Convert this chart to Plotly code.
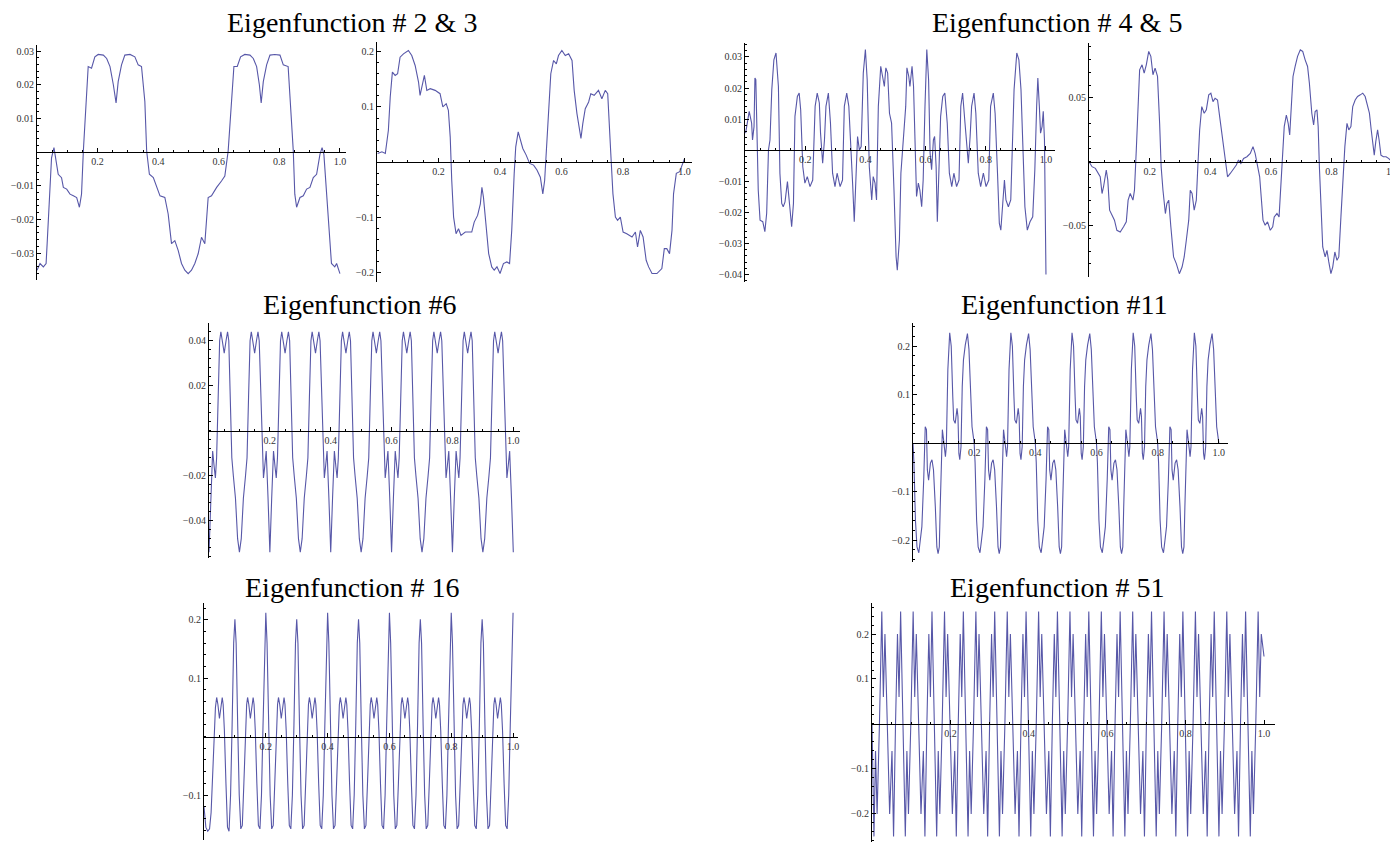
import plotly.graph_objects as go

# ---------------- data ----------------
eig2_x = [0, .010, .021, .030, .034, .041, .048, .056, .063, .070, .081, .087, .098, .109, .120, .131, .140, .147, .153, .162,
          .169, .180, .191, .202, .219, .230, .241, .252, .261, .268, .279, .290, .307, .323, .334, .345, .356, .362, .371, .384,
          .395, .406, .422, .433, .444, .455, .466, .477, .488, .499, .510, .521, .532, .543, .554, .565, .576, .593, .609, .620,
          .631, .642, .650, .661, .672, .686, .703, .714, .725, .734, .740, .747, .758, .769, .785, .802, .813, .829, .837, .846,
          .851, .857, .868, .879, .890, .901, .912, .923, .934, .941, .947, .956, .967, .972, .983, .989, 1.0]
eig2_y = [-.0351, -.0331, -.0341, -.0331, -.0263, -.0145, -.0017, .0013, -.0027, -.0066, -.0076, -.0105, -.0110, -.0125, -.0130,
          -.0135, -.0164, -.0125, .0003, .0150, .0254, .0249, .0283, .0290, .0288, .0278, .0254, .0200, .0146, .0209, .0259, .0288,
          .0290, .0283, .0259, .0254, .0150, .0003, -.0066, -.0076, -.0105, -.0130, -.0135, -.0184, -.0272, -.0263, -.0292, -.0331,
          -.0351, -.0361, -.0351, -.0331, -.0302, -.0253, -.0272, -.0135, -.0130, -.0105, -.0086, -.0071, .0003, .0150, .0254, .0254,
          .0283, .0290, .0288, .0278, .0254, .0200, .0146, .0209, .0259, .0288, .0290, .0288, .0259, .0254, .0150, .0003, -.0125,
          -.0164, -.0135, -.0130, -.0110, -.0105, -.0076, -.0066, -.0007, .0013, -.0007, -.0115, -.0263, -.0331, -.0341, -.0331, -.0361]

eig3_x = [.002, .016, .027, .037, .043, .050, .059, .067, .075, .086, .102, .113, .124, .135, .140, .146, .154, .162, .173, .189,
          .205, .214, .225, .232, .238, .243, .249, .257, .265, .273, .287, .300, .308, .316, .327, .336, .341, .346, .355, .363,
          .373, .381, .390, .400, .411, .422, .431, .438, .446, .451, .459, .466, .474, .485, .496, .509, .520, .531, .539, .545,
          .550, .558, .565, .574, .583, .590, .601, .612, .623, .634, .641, .650, .658, .663, .669, .677, .688, .695, .706, .720,
          .731, .742, .750, .756, .760, .767, .775, .782, .791, .800, .812, .829, .840, .847, .856, .865, .875, .883, .894, .910,
          .926, .934, .942, .951, .959, .964, .973, .984, .991, 1.0]
eig3_y = [.016, .019, .016, .058, .118, .163, .157, .160, .190, .196, .202, .193, .175, .145, .121, .136, .157, .130, .133, .130,
          .124, .100, .106, .094, .046, -.033, -.099, -.129, -.120, -.132, -.126, -.126, -.126, -.108, -.096, -.075, -.045, -.063,
          -.123, -.165, -.189, -.195, -.189, -.201, -.183, -.180, -.183, -.123, -.020, .028, .055, .040, .025, .013, -.002, -.005,
          -.014, -.027, -.057, -.033, .022, .100, .160, .184, .178, .193, .202, .193, .196, .184, .130, .088, .058, .043, .070,
          .097, .109, .124, .121, .130, .115, .130, .124, .070, .016, -.057, -.099, -.105, -.099, -.126, -.129, -.135, -.126,
          -.153, -.123, -.135, -.177, -.189, -.201, -.201, -.192, -.156, -.156, -.165, -.123, -.057, -.020, -.017, -.008, .007]

eig4_x = [.002, .008, .014, .022, .025, .030, .033, .036, .041, .044, .050, .059, .066, .072, .078, .083, .089, .096, .103, .111,
          .116, .122, .127, .133, .141, .147, .155, .161, .166, .174, .180, .185, .192, .199, .207, .216, .225, .233, .240, .247,
          .251, .258, .264, .269, .277, .284, .291, .299, .306, .316, .324, .330, .338, .345, .351, .358, .363, .369, .374, .380,
          .386, .393, .400, .406, .413, .421, .426, .432, .437, .443, .451, .457, .463, .468, .474, .480, .487, .495, .502, .506,
          .513, .518, .526, .534, .538, .544, .548, .555, .560, .565, .570, .576, .581, .587, .592, .598, .604, .610, .615, .620,
          .626, .630, .635, .639, .645, .650, .657, .664, .672, .679, .687, .694, .703, .711, .717, .723, .731, .736, .742, .748,
          .753, .761, .767, .775, .783, .792, .801, .810, .816, .825, .831, .839, .845, .850, .856, .862, .867, .875, .883, .888,
          .894, .903, .910, .917, .922, .930, .938, .947, .956, .963, .969, .973, .978, .982, .987, .991, .995, .998, 1.0]
eig4_y = [.0055, .0098, .0125, .0087, .0033, .0076, .0232, .0227, .0055, -.0128, -.0225, -.0230, -.0262, -.0203, .0001, .0033,
          .0195, .0291, .0313, .0205, -.0074, -.0171, -.0182, -.0166, -.0101, -.0160, -.0246, -.0171, .0109, .0173, .0184, .0130,
          -.0053, -.0106, -.0085, -.0117, -.0096, .0141, .0184, .0152, .0055, -.0042, .0033, .0141, .0184, .0087, -.0074, -.0117,
          -.0074, -.0117, -.0096, .0141, .0184, .0141, .0033, -.0117, -.0230, -.0074, .0044, .0001, .0012, .0248, .0324, .0227,
          -.0053, -.0160, -.0085, -.0106, -.0160, .0141, .0270, .0238, .0205, .0265, .0248, .0119, .0087, -.0128, -.0343, -.0386,
          -.0289, -.0074, .0044, .0141, .0265, .0238, .0205, .0270, .0205, .0055, -.0149, -.0106, -.0128, -.0182, -.0096, .0141,
          .0324, .0227, -.0010, -.0063, .0033, .0044, -.0053, -.0230, -.0074, .0109, .0173, .0184, .0087, -.0074, -.0117, -.0074,
          -.0117, -.0096, .0141, .0184, .0087, .0033, -.0042, .0044, .0141, .0184, .0119, -.0074, -.0117, -.0074, -.0117, -.0096,
          .0141, .0184, .0119, -.0074, -.0235, -.0257, -.0160, -.0096, -.0160, -.0182, -.0160, -.0020, .0195, .0313, .0291, .0195,
          .0055, -.0182, -.0257, -.0230, -.0214, -.0063, .0141, .0232, .0141, .0055, .0076, .0125, .0033, -.0182, -.0400]

eig5_x = [0, .010, .021, .031, .037, .043, .048, .057, .062, .068, .075, .084, .092, .103, .114, .123, .129, .136, .145, .150,
          .156, .160, .167, .175, .182, .189, .197, .204, .211, .218, .226, .233, .238, .244, .252, .257, .263, .270, .279, .288,
          .298, .307, .314, .321, .329, .334, .340, .347, .354, .359, .365, .372, .380, .387, .395, .402, .409, .416, .424, .431,
          .438, .446, .453, .457, .466, .475, .486, .493, .501, .510, .521, .532, .541, .548, .554, .563, .568, .574, .581, .589,
          .598, .606, .611, .620, .627, .633, .638, .644, .651, .657, .662, .667, .673, .680, .688, .697, .705, .713, .721, .727,
          .735, .741, .746, .752, .756, .760, .765, .771, .779, .785, .791, .798, .804, .811, .818, .824, .831, .837, .844, .851,
          .857, .864, .870, .878, .886, .895, .903, .911, .919, .925, .931, .936, .941, .946, .952, .957, .963, .971, .980, .988,
          .996, 1.0]
eig5_y = [0, -.0039, -.0052, -.0092, -.0118, -.0249, -.0196, -.0065, -.0144, -.0380, -.0419, -.0458, -.0537, -.0550, -.0510,
          -.0471, -.0301, -.0249, -.0301, -.0223, .0092, .0301, .0720, .0759, .0694, .0759, .0864, .0825, .0681, .0733, .0668,
          .0301, -.0039, -.0223, -.0406, -.0327, -.0301, -.0510, -.0746, -.0798, -.0877, -.0825, -.0746, -.0615, -.0458, -.0223,
          -.0249, -.0380, -.0301, -.0039, .0249, .0432, .0380, .0406, .0524, .0537, .0471, .0497, .0484, .0353, .0223, .0065,
          -.0065, -.0118, -.0092, -.0065, -.0026, .0013, -.0013, .0026, .0039, .0065, .0118, .0065, -.0013, -.0118, -.0275, -.0458,
          -.0497, -.0471, -.0537, -.0510, -.0432, -.0406, -.0432, -.0196, .0092, .0275, .0366, .0301, .0209, .0406, .0668, .0746,
          .0825, .0877, .0864, .0798, .0746, .0615, .0380, .0288, .0393, .0406, .0275, -.0039, -.0301, -.0668, -.0746, -.0694,
          -.0785, -.0877, -.0825, -.0707, -.0772, -.0746, -.0432, -.0144, .0118, .0301, .0249, .0275, .0432, .0484, .0511, .0524,
          .0537, .0511, .0445, .0380, .0249, .0144, .0052, .0157, .0249, .0170, .0052, .0039, .0039, .0026, .0013, 0]

eig6_x = [0,
          .006, .012, .017, .021, .025, .030, .035, .039, .044, .050, .056, .061, .065, .070, .075, .080, .087, .094, .100,
          .106, .113, .120, .125, .130, .135, .139, .144, .150, .156, .161, .165, .170, .175, .179, .183, .188, .194, .200,
          .206, .212, .217, .221, .225, .230, .235, .239, .244, .250, .256, .261, .265, .270, .275, .280, .287, .294, .300,
          .306, .313, .320, .325, .330, .335, .339, .344, .350, .356, .361, .365, .370, .375, .379, .383, .388, .394, .400,
          .406, .412, .417, .421, .425, .430, .435, .439, .444, .450, .456, .461, .465, .470, .475, .480, .487, .494, .500,
          .506, .513, .520, .525, .530, .535, .539, .544, .550, .556, .561, .565, .570, .575, .579, .583, .588, .594, .600,
          .606, .612, .617, .621, .625, .630, .635, .639, .644, .650, .656, .661, .665, .670, .675, .680, .687, .694, .700,
          .706, .713, .720, .725, .730, .735, .739, .744, .750, .756, .761, .765, .770, .775, .779, .783, .788, .794, .800,
          .806, .812, .817, .821, .825, .830, .835, .839, .844, .850, .856, .861, .865, .870, .875, .880, .887, .894, .900,
          .906, .913, .920, .925, .930, .935, .939, .944, .950, .956, .961, .965, .970, .975, .979, .983, .988, .994, 1.0]
eig6_y = [-.054,
          -.030, -.009, -.016, -.021, -.012, .015, .040, .044, .040, .0345, .040, .044, .040, .015, -.012, -.020, -.030, -.048, -.054,
          -.048, -.030, -.020, -.012, .015, .040, .044, .040, .0345, .040, .044, .040, .015, -.012, -.021, -.016, -.009, -.030, -.054,
          -.030, -.009, -.016, -.021, -.012, .015, .040, .044, .040, .0345, .040, .044, .040, .015, -.012, -.020, -.030, -.048, -.054,
          -.048, -.030, -.020, -.012, .015, .040, .044, .040, .0345, .040, .044, .040, .015, -.012, -.021, -.016, -.009, -.030, -.054,
          -.030, -.009, -.016, -.021, -.012, .015, .040, .044, .040, .0345, .040, .044, .040, .015, -.012, -.020, -.030, -.048, -.054,
          -.048, -.030, -.020, -.012, .015, .040, .044, .040, .0345, .040, .044, .040, .015, -.012, -.021, -.016, -.009, -.030, -.054,
          -.030, -.009, -.016, -.021, -.012, .015, .040, .044, .040, .0345, .040, .044, .040, .015, -.012, -.020, -.030, -.048, -.054,
          -.048, -.030, -.020, -.012, .015, .040, .044, .040, .0345, .040, .044, .040, .015, -.012, -.021, -.016, -.009, -.030, -.054,
          -.030, -.009, -.016, -.021, -.012, .015, .040, .044, .040, .0345, .040, .044, .040, .015, -.012, -.020, -.030, -.048, -.054,
          -.048, -.030, -.020, -.012, .015, .040, .044, .040, .0345, .040, .044, .040, .015, -.012, -.021, -.016, -.009, -.030, -.054]

eig11_x = [0,
           .003, .008, .013, .019, .024, .029, .035, .040, .044, .047, .051, .057, .062, .067, .073, .078, .082, .086, .089, .093, .096, .100,
           .106, .109, .114, .120, .125, .130, .133, .138, .144, .147, .150, .153, .157, .161, .165, .171, .178, .183, .187, .193, .198, .200,
           .203, .208, .213, .219, .224, .229, .235, .240, .244, .247, .251, .257, .262, .267, .273, .278, .282, .286, .289, .293, .296, .300,
           .306, .309, .314, .320, .325, .330, .333, .338, .344, .347, .350, .353, .357, .361, .365, .371, .378, .383, .387, .393, .398, .400,
           .403, .408, .413, .419, .424, .429, .435, .440, .444, .447, .451, .457, .462, .467, .473, .478, .482, .486, .489, .493, .496, .500,
           .506, .509, .514, .520, .525, .530, .533, .538, .544, .547, .550, .553, .557, .561, .565, .571, .578, .583, .587, .593, .598, .600,
           .603, .608, .613, .619, .624, .629, .635, .640, .644, .647, .651, .657, .662, .667, .673, .678, .682, .686, .689, .693, .696, .700,
           .706, .709, .714, .720, .725, .730, .733, .738, .744, .747, .750, .753, .757, .761, .765, .771, .778, .783, .787, .793, .798, .800,
           .803, .808, .813, .819, .824, .829, .835, .840, .844, .847, .851, .857, .862, .867, .873, .878, .882, .886, .889, .893, .896, .900,
           .906, .909, .914, .920, .925, .930, .933, .938, .944, .947, .950, .953, .957, .961, .965, .971, .978, .983, .987, .993, .998, 1.0]
eig11_y = [0,
           -.040, -.159, -.214, -.226, -.200, -.172, -.076, .034, .028, -.055, -.076, -.041, -.034, -.055, -.131, -.214, -.228, -.214, -.131, -.021, .028, .007,
           -.028, -.007, .152, .228, .200, .097, .048, .041, .072, .055, -.021, -.034, -.007, .117, .172, .203, .226, .193, .117, .034, .010, .000,
           -.040, -.159, -.214, -.226, -.200, -.172, -.076, .034, .028, -.055, -.076, -.041, -.034, -.055, -.131, -.214, -.228, -.214, -.131, -.021, .028, .007,
           -.028, -.007, .152, .228, .200, .097, .048, .041, .072, .055, -.021, -.034, -.007, .117, .172, .203, .226, .193, .117, .034, .010, .000,
           -.040, -.159, -.214, -.226, -.200, -.172, -.076, .034, .028, -.055, -.076, -.041, -.034, -.055, -.131, -.214, -.228, -.214, -.131, -.021, .028, .007,
           -.028, -.007, .152, .228, .200, .097, .048, .041, .072, .055, -.021, -.034, -.007, .117, .172, .203, .226, .193, .117, .034, .010, .000,
           -.040, -.159, -.214, -.226, -.200, -.172, -.076, .034, .028, -.055, -.076, -.041, -.034, -.055, -.131, -.214, -.228, -.214, -.131, -.021, .028, .007,
           -.028, -.007, .152, .228, .200, .097, .048, .041, .072, .055, -.021, -.034, -.007, .117, .172, .203, .226, .193, .117, .034, .010, .000,
           -.040, -.159, -.214, -.226, -.200, -.172, -.076, .034, .028, -.055, -.076, -.041, -.034, -.055, -.131, -.214, -.228, -.214, -.131, -.021, .028, .007,
           -.028, -.007, .152, .228, .200, .097, .048, .041, .072, .055, -.021, -.034, -.007, .117, .172, .203, .226, .193, .117, .034, .010, .000]

eig16_x = [0, .006, .012, .018, .023, .028, .033, .037, .041, .045, .050, .055, .059, .062, .066, .071, .076, .081, .086, .091, .096, .100,
           .104, .109, .114, .119, .124, .129, .134, .138, .141, .145, .150, .155, .159, .162, .166, .171, .176, .181, .186, .191, .196, .200,
           .204, .209, .214, .219, .224, .229, .234, .238, .241, .245, .250, .255, .259, .262, .266, .271, .276, .281, .286, .291, .296, .300,
           .304, .309, .314, .319, .324, .329, .334, .338, .341, .345, .350, .355, .359, .362, .366, .371, .376, .381, .386, .391, .396, .400,
           .404, .409, .414, .419, .424, .429, .434, .438, .441, .445, .450, .455, .459, .462, .466, .471, .476, .481, .486, .491, .496, .500,
           .504, .509, .514, .519, .524, .529, .534, .538, .541, .545, .550, .555, .559, .562, .566, .571, .576, .581, .586, .591, .596, .600,
           .604, .609, .614, .619, .624, .629, .634, .638, .641, .645, .650, .655, .659, .662, .666, .671, .676, .681, .686, .691, .696, .700,
           .704, .709, .714, .719, .724, .729, .734, .738, .741, .745, .750, .755, .759, .762, .766, .771, .776, .781, .786, .791, .796, .800,
           .804, .809, .814, .819, .824, .829, .834, .838, .841, .845, .850, .855, .859, .862, .866, .871, .876, .881, .886, .891, .896, .900,
           .904, .909, .914, .919, .924, .929, .934, .938, .941, .945, .950, .955, .959, .962, .966, .971, .976, .981, .986, .991, .996, 1.0]
eig16_y = [-.12, -.155, -.162, -.158, -.13, -.06, .01, .05, .067, .055, .031, .055, .067, .055, .01, -.08, -.155, -.162, -.10, .02, .16, .201,
           .16, .02, -.10, -.158, -.152, -.08, .01, .055, .067, .055, .031, .055, .067, .055, .01, -.08, -.152, -.158, -.10, .02, .16, .212,
           .16, .02, -.10, -.158, -.152, -.08, .01, .055, .067, .055, .031, .055, .067, .055, .01, -.08, -.152, -.158, -.10, .02, .16, .201,
           .16, .02, -.10, -.158, -.152, -.08, .01, .055, .067, .055, .031, .055, .067, .055, .01, -.08, -.152, -.158, -.10, .02, .16, .212,
           .16, .02, -.10, -.158, -.152, -.08, .01, .055, .067, .055, .031, .055, .067, .055, .01, -.08, -.152, -.158, -.10, .02, .16, .201,
           .16, .02, -.10, -.158, -.152, -.08, .01, .055, .067, .055, .031, .055, .067, .055, .01, -.08, -.152, -.158, -.10, .02, .16, .212,
           .16, .02, -.10, -.158, -.152, -.08, .01, .055, .067, .055, .031, .055, .067, .055, .01, -.08, -.152, -.158, -.10, .02, .16, .201,
           .16, .02, -.10, -.158, -.152, -.08, .01, .055, .067, .055, .031, .055, .067, .055, .01, -.08, -.152, -.158, -.10, .02, .16, .212,
           .16, .02, -.10, -.158, -.152, -.08, .01, .055, .067, .055, .031, .055, .067, .055, .01, -.08, -.152, -.158, -.10, .02, .16, .201,
           .16, .02, -.10, -.158, -.152, -.08, .01, .055, .067, .055, .031, .055, .067, .055, .01, -.08, -.152, -.158, -.10, .02, .16, .212]

eig51_x = [0,
           .005, .009, .013, .019, .025, .029, .033, .039, .045, .051, .055, .060, .065, .069, .073, .079,
           .085, .089, .093, .099, .105, .109, .113, .119, .125, .131, .135, .140, .145, .149, .153, .159,
           .165, .169, .173, .179, .185, .189, .193, .199, .205, .211, .215, .220, .225, .229, .233, .239,
           .245, .249, .253, .259, .265, .269, .273, .279, .285, .291, .295, .300, .305, .309, .313, .319,
           .325, .329, .333, .339, .345, .349, .353, .359, .365, .371, .375, .380, .385, .389, .393, .399,
           .405, .409, .413, .419, .425, .429, .433, .439, .445, .451, .455, .460, .465, .469, .473, .479,
           .485, .489, .493, .499, .505, .509, .513, .519, .525, .531, .535, .540, .545, .549, .553, .559,
           .565, .569, .573, .579, .585, .589, .593, .599, .605, .611, .615, .620, .625, .629, .633, .639,
           .645, .649, .653, .659, .665, .669, .673, .679, .685, .691, .695, .700, .705, .709, .713, .719,
           .725, .729, .733, .739, .745, .749, .753, .759, .765, .771, .775, .780, .785, .789, .793, .799,
           .805, .809, .813, .819, .825, .829, .833, .839, .845, .851, .855, .860, .865, .869, .873, .879,
           .885, .889, .893, .899, .905, .909, .913, .919, .925, .931, .935, .940, .945, .949, .953, .959,
           .965, .969, .973, .979, .985, .989, .993, 1.0]
eig51_y = [0,
           -.25, -.06, -.20, 0, .25, .06, .20, 0, -.20, -.06, -.25, 0, .20, .06, .25, 0,
           -.25, -.06, -.20, 0, .25, .06, .20, 0, -.20, -.06, -.25, 0, .20, .06, .25, 0,
           -.25, -.06, -.20, 0, .25, .06, .20, 0, -.20, -.06, -.25, 0, .20, .06, .25, 0,
           -.25, -.06, -.20, 0, .25, .06, .20, 0, -.20, -.06, -.25, 0, .20, .06, .25, 0,
           -.25, -.06, -.20, 0, .25, .06, .20, 0, -.20, -.06, -.25, 0, .20, .06, .25, 0,
           -.25, -.06, -.20, 0, .25, .06, .20, 0, -.20, -.06, -.25, 0, .20, .06, .25, 0,
           -.25, -.06, -.20, 0, .25, .06, .20, 0, -.20, -.06, -.25, 0, .20, .06, .25, 0,
           -.25, -.06, -.20, 0, .25, .06, .20, 0, -.20, -.06, -.25, 0, .20, .06, .25, 0,
           -.25, -.06, -.20, 0, .25, .06, .20, 0, -.20, -.06, -.25, 0, .20, .06, .25, 0,
           -.25, -.06, -.20, 0, .25, .06, .20, 0, -.20, -.06, -.25, 0, .20, .06, .25, 0,
           -.25, -.06, -.20, 0, .25, .06, .20, 0, -.20, -.06, -.25, 0, .20, .06, .25, 0,
           -.25, -.06, -.20, 0, .25, .06, .20, 0, -.20, -.06, -.25, 0, .20, .06, .25, 0,
           -.25, -.06, -.20, 0, .25, .06, .20, .15]

x_tick_vals = [0.2, 0.4, 0.6, 0.8, 1.0]
x_tick_text = ["0.2", "0.4", "0.6", "0.8", "1.0"]

titles = ["Eigenfunction # 2 & 3", "Eigenfunction # 4 & 5", "Eigenfunction #6",
          "Eigenfunction #11", "Eigenfunction # 16", "Eigenfunction # 51"]

# ---------------- layout (pixel boxes of each panel, in page pixels) ----------------
W, H = 1398, 842
OFF = 8  # the page body has an 8px margin; compensate so page positions match
LINE = "#5757a8"
TICKFONT = dict(family="Liberation Serif", size=10, color="#333333")

panels = [
    dict(x=eig2_x, y=eig2_y, box=(37, 346, 45, 280), xmax=1.02, yr=(-0.038, 0.0318),
         yt=[-0.03, -0.02, -0.01, 0.01, 0.02, 0.03], ym=0.002),
    dict(x=eig3_x, y=eig3_y, box=(377, 692, 42, 282), xmax=1.024, yr=(-0.2163, 0.2174),
         yt=[-0.2, -0.1, 0.1, 0.2], ym=0.02),
    dict(x=eig4_x, y=eig4_y, box=(745, 1055, 43, 282), xmax=1.03, yr=(-0.0424, 0.0345),
         yt=[-0.04, -0.03, -0.02, -0.01, 0.01, 0.02, 0.03], ym=0.002),
    dict(x=eig5_x, y=eig5_y, box=(1089, 1397, 43, 277), xmax=1.016, yr=(-0.0903, 0.093),
         yt=[-0.05, 0.05], ym=0.01),
    dict(x=eig6_x, y=eig6_y, box=(209, 520, 323, 558), xmax=1.022, yr=(-0.0566, 0.0479),
         yt=[-0.04, -0.02, 0.02, 0.04], ym=0.004),
    dict(x=eig11_x, y=eig11_y, box=(913, 1228, 323, 562), xmax=1.03, yr=(-0.245, 0.248),
         yt=[-0.2, -0.1, 0.1, 0.2], ym=0.02),
    dict(x=eig16_x, y=eig16_y, box=(204, 518, 603, 840), xmax=1.016, yr=(-0.177, 0.2287),
         yt=[-0.1, 0.1, 0.2], ym=0.02),
    dict(x=eig51_x, y=eig51_y, box=(872, 1275, 603, 842), xmax=1.028, yr=(-0.2625, 0.269),
         yt=[-0.2, -0.1, 0.1, 0.2], ym=0.02),
]

title_pos = [(352, 22), (1057, 22), (360, 305), (1064, 305), (352, 587), (1057, 587)]

fig = go.Figure()
layout = dict(width=W, height=H, margin=dict(l=0, r=0, t=0, b=0),
              paper_bgcolor="white", plot_bgcolor="white", showlegend=False)

for i, p in enumerate(panels, start=1):
    x0, x1, yt, yb = p["box"]
    ymin, ymax = p["yr"]
    dom_x = [(x0 - OFF) / W, (x1 - OFF) / W]
    dom_y = [1 - (yb - OFF) / H, 1 - (yt - OFF) / H]
    zero_pos = dom_y[0] + (0 - ymin) / (ymax - ymin) * (dom_y[1] - dom_y[0])
    xa = "x" if i == 1 else f"x{i}"
    ya = "y" if i == 1 else f"y{i}"
    fig.add_trace(go.Scatter(x=p["x"], y=p["y"], mode="lines",
                             line=dict(color=LINE, width=1.1),
                             xaxis=xa, yaxis=ya, hoverinfo="skip"))
    layout["xaxis" if i == 1 else f"xaxis{i}"] = dict(
        domain=dom_x, range=[0, p["xmax"]], anchor="free", position=zero_pos,
        showline=True, linecolor="black", linewidth=1, showgrid=False, zeroline=False,
        ticks="inside", ticklen=4, tickwidth=1, tickcolor="black",
        tickmode="array", tickvals=x_tick_vals, ticktext=x_tick_text, tickfont=TICKFONT,
        minor=dict(ticks="inside", ticklen=2, tickwidth=1, tickcolor="black", tickmode="linear", tick0=0, dtick=0.05),
        automargin=False, fixedrange=True)
    layout["yaxis" if i == 1 else f"yaxis{i}"] = dict(
        domain=dom_y, range=[ymin, ymax], anchor=xa, side="left",
        showline=True, linecolor="black", linewidth=1, showgrid=False, zeroline=False,
        ticks="inside", ticklen=4, tickwidth=1, tickcolor="black",
        tickmode="array", tickvals=p["yt"], tickfont=TICKFONT,
        minor=dict(ticks="inside", ticklen=2, tickwidth=1, tickcolor="black", tickmode="linear", tick0=0, dtick=p["ym"]),
        automargin=False, fixedrange=True)

annotations = []
for t, (cx, cy) in zip(titles, title_pos):
    annotations.append(dict(text=t, x=(cx - OFF) / W, y=1 - (cy - OFF) / H, xref="paper", yref="paper",
                            xanchor="center", yanchor="middle", showarrow=False,
                            font=dict(family="Liberation Serif", size=28, color="black")))
layout["annotations"] = annotations

fig.update_layout(**layout)
fig.write_html("out.html")
